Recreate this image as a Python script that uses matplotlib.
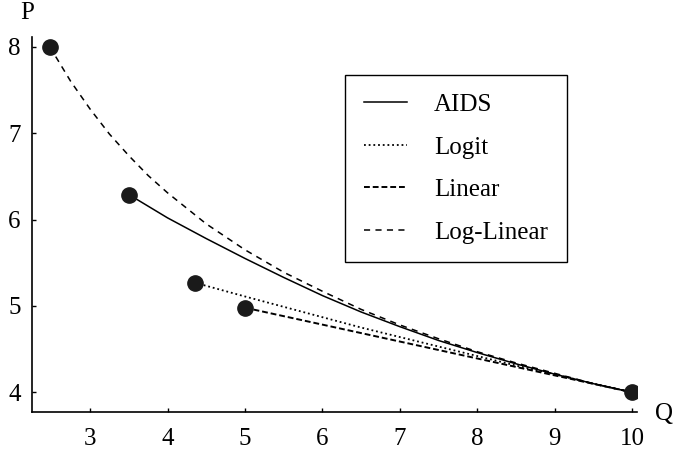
import matplotlib
matplotlib.use("Agg")
import matplotlib.pyplot as plt

# values
aids_q = [3.50, 4.00, 4.50, 5.00, 5.50, 6.00, 6.50, 7.00, 7.50, 8.00, 8.50, 9.00, 9.50, 10.0]
aids_p = [6.29, 6.02, 5.78, 5.55, 5.33, 5.12, 4.93, 4.76, 4.60, 4.46, 4.33, 4.21, 4.10, 4.00]

logit_q = [4.35, 5.00, 5.50, 6.00, 6.50, 7.00, 7.50, 8.00, 8.50, 9.00, 9.50, 10.0]
logit_p = [5.27, 5.11, 4.99, 4.87, 4.75, 4.64, 4.53, 4.42, 4.31, 4.21, 4.10, 4.00]

linear_q = [5.00, 10.0]
linear_p = [4.98, 4.00]

loglin_q = [2.48, 2.75, 3.00, 3.25, 3.50, 3.75, 4.00, 4.50, 5.00, 5.50,
            6.00, 6.50, 7.00, 7.50, 8.00, 8.50, 9.00, 9.50, 10.0]
loglin_p = [8.00, 7.60, 7.28, 6.99, 6.74, 6.51, 6.31, 5.95, 5.65, 5.39,
            5.17, 4.96, 4.78, 4.62, 4.47, 4.34, 4.22, 4.10, 4.00]

points_q = [2.48, 3.50, 4.35, 5.00, 10.0]
points_p = [8.00, 6.29, 5.27, 4.98, 4.00]

x_ticks = [3, 4, 5, 6, 7, 8, 9, 10]
y_ticks = [4, 5, 6, 7, 8]

plt.rcParams["font.family"] = ["Liberation Serif", "DejaVu Serif"]
plt.rcParams["font.size"] = 18

fig = plt.figure(figsize=(6.73, 4.55), dpi=100)
ax = fig.add_axes([0.0475, 0.094, 0.899, 0.824])

ax.plot(aids_q, aids_p, color="black", lw=1.1, ls="-", label="AIDS")
ax.plot(logit_q, logit_p, color="black", lw=1.3, ls=(0, (1, 1.6)), label="Logit")
ax.plot(linear_q, linear_p, color="black", lw=1.4, ls=(0, (3, 1.5)), label="Linear")
ax.plot(loglin_q, loglin_p, color="black", lw=1.1, ls=(0, (4, 3.5)), label="Log-Linear")
ax.plot(points_q, points_p, "o", color="#1a1a1a", ms=11, zorder=5)

ax.set_xlim(2.25, 10.06)
ax.set_ylim(3.77, 8.11)
ax.set_xticks(x_ticks)
ax.set_yticks(y_ticks)
ax.tick_params(direction="in", length=3, width=1, labelsize=18)
ax.tick_params(axis="x", pad=11)
ax.tick_params(axis="y", pad=8)
for side in ["top", "right"]:
    ax.spines[side].set_visible(False)
for side in ["left", "bottom"]:
    ax.spines[side].set_linewidth(1.2)

fig.text(27 / 673, 1 - 13 / 455, "P", ha="center", va="center", fontsize=18)
fig.text(664 / 673, 1 - 414 / 455, "Q", ha="center", va="center", fontsize=18)

leg = ax.legend(loc="upper left", bbox_to_anchor=(0.518, 0.9), frameon=True,
                fancybox=False, edgecolor="black", framealpha=1, fontsize=18,
                handlelength=1.7, handletextpad=1.1, labelspacing=0.8,
                borderpad=0.75, borderaxespad=0)
leg.get_frame().set_linewidth(1.0)

fig.savefig("out.png", dpi=100)
